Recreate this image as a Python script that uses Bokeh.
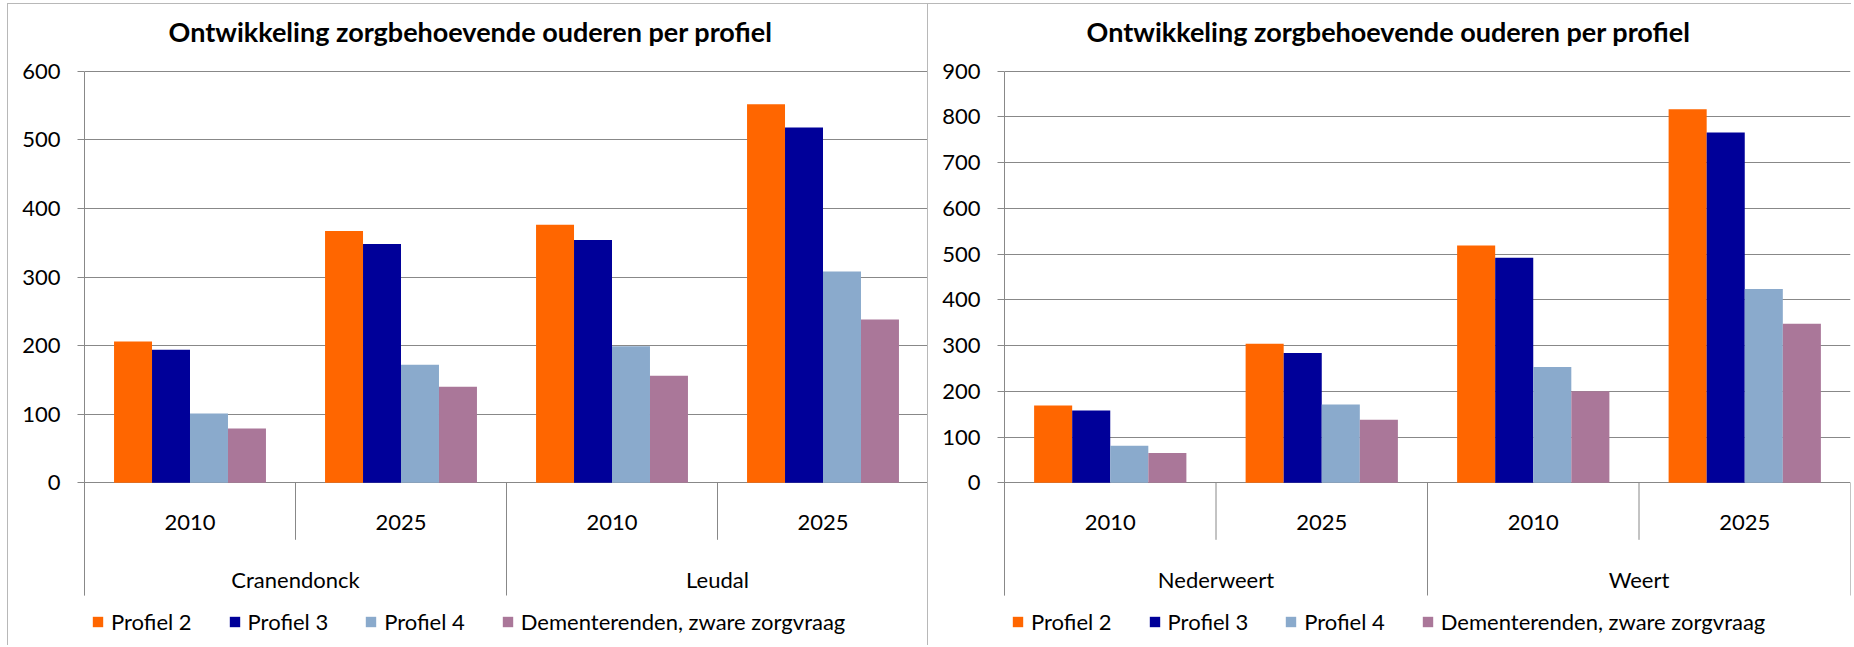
from bokeh.plotting import figure
from bokeh.models import (FactorRange, Range1d, FixedTicker, Legend, LegendItem,
                          ColumnDataSource, Label, Spacer)
from bokeh.transform import dodge
from bokeh.layouts import row
from bokeh.core.properties import value
from bokeh.embed import file_html
from bokeh.resources import INLINE

# ---------------- data ----------------
TITLE = "Ontwikkeling zorgbehoevende ouderen per profiel"
series_names = ["Profiel 2", "Profiel 3", "Profiel 4", "Dementerenden, zware zorgvraag"]
colors = ["#FF6600", "#000099", "#8AAACC", "#AA7799"]
years = ["2010", "2025"]

left_places = ["Cranendonck", "Leudal"]
left_profiel2 = [206, 367, 376, 552]
left_profiel3 = [194, 348, 354, 518]
left_profiel4 = [101, 172, 199, 308]
left_dement = [79, 140, 156, 238]
left_ymax = 600

right_places = ["Nederweert", "Weert"]
right_profiel2 = [169, 304, 519, 817]
right_profiel3 = [158, 284, 492, 766]
right_profiel4 = [81, 171, 253, 424]
right_dement = [65, 138, 200, 348]
right_ymax = 900

# ---------------- layout constants (page pixels) ----------------
CANVAS_TOP = 4        # page y of figure canvas top
FIG_H = 642
TOP_PX = 70.7          # page y of top tick value
ZERO_PX = 482.3        # page y of value 0
TITLE_PX = 31.0
YEAR_PX = 521.5
GROUP_PX = 579.0
SEP_SHORT_PX = 539.3
SEP_LONG_PX = 595.0
GRID = "#888888"
BORDER = "1px solid #b8b8b8"
FONT = "Lato"


def make_chart(places, s1, s2, s3, s4, ymax, width, right_border, title_x, legend_x):
    per_px = ymax / (ZERO_PX - TOP_PX)

    def y_at(page_y):
        return (ZERO_PX - page_y) * per_px

    factors = [(pl, yr) for pl in places for yr in years]
    x_range = FactorRange(*factors, factor_padding=0, group_padding=0,
                          subgroup_padding=0, range_padding=0)
    y_range = Range1d(y_at(CANVAS_TOP + FIG_H), y_at(CANVAS_TOP))

    p = figure(width=width, height=FIG_H, x_range=x_range, y_range=y_range,
               x_axis_location=None, output_backend="svg", toolbar_location=None,
               min_border_left=76, min_border_right=right_border,
               min_border_top=0, min_border_bottom=0)
    p.title.visible = False
    p.outline_line_color = None
    p.background_fill_color = "white"
    p.border_fill_color = "white"

    ticks = list(range(0, ymax + 1, 100))
    ax = p.yaxis[0]
    ax.ticker = FixedTicker(ticks=ticks)
    ax.bounds = (y_at(SEP_LONG_PX), ymax)
    ax.axis_line_color = GRID
    ax.major_tick_line_color = GRID
    ax.major_tick_out = 7
    ax.major_tick_in = 0
    ax.minor_tick_line_color = None
    ax.major_label_text_font = FONT
    ax.major_label_text_font_size = "22px"
    ax.major_label_text_color = "black"
    ax.major_label_standoff = 17

    p.xgrid.visible = False
    p.ygrid.ticker = FixedTicker(ticks=ticks)
    p.ygrid.grid_line_color = GRID
    p.ygrid.grid_line_width = 1

    # bars
    src = ColumnDataSource(dict(x=factors, s1=s1, s2=s2, s3=s3, s4=s4))
    offs = [-0.27, -0.09, 0.09, 0.27]
    renderers = []
    for key, off, col in zip(["s1", "s2", "s3", "s4"], offs, colors):
        r = p.vbar(x=dodge("x", off, range=x_range), top=key, bottom=0, width=0.18,
                   source=src, fill_color=col, line_color=None)
        renderers.append(r)

    # category separators
    n = len(factors)
    sep_x = list(range(0, n + 1))
    sep_y1 = [y_at(SEP_LONG_PX) if i % 2 == 0 else y_at(SEP_SHORT_PX) for i in sep_x]
    p.segment(x0=sep_x, x1=sep_x, y0=[0] * len(sep_x), y1=sep_y1,
              line_color=GRID, line_width=1)

    # category labels
    p.text(x=factors, y=[y_at(YEAR_PX)] * n, text=[f[1] for f in factors],
           text_font=value(FONT), text_font_size="22px", text_align="center",
           text_baseline="middle", text_color="black")
    p.text(x=places, y=[y_at(GROUP_PX)] * len(places), text=places,
           text_font=value(FONT), text_font_size="22px", text_align="center",
           text_baseline="middle", text_color="black")

    # title
    p.add_layout(Label(x=title_x, x_units="screen", y=y_at(TITLE_PX), text=TITLE,
                       text_font=FONT, text_font_style="bold", text_font_size="27px",
                       text_align="center", text_baseline="middle", text_color="black"))

    legend = Legend(items=[LegendItem(label=nm, renderers=[r])
                           for nm, r in zip(series_names, renderers)],
                    orientation="horizontal", location=(legend_x, 11),
                    padding=0, margin=0, spacing=36, label_standoff=7,
                    glyph_width=13, glyph_height=13,
                    border_line_color=None, background_fill_alpha=0,
                    label_text_font=FONT, label_text_font_size="22px",
                    label_text_color="black")
    p.add_layout(legend)
    return p


p1 = make_chart(left_places, left_profiel2, left_profiel3, left_profiel4, left_dement,
                left_ymax, 921, 1, 386, 7)
p1.styles = {"border-left": BORDER, "border-top": BORDER, "border-right": BORDER,
             "margin-top": "3px"}
p2 = make_chart(right_places, right_profiel2, right_profiel3, right_profiel4, right_dement,
                right_ymax, 923, 1, 384, 7)
p2.styles = {"border-top": BORDER, "margin-top": "3px"}

layout = row(Spacer(width=7, height=10), p1, p2, spacing=0)
open("out.html", "w").write(file_html(layout, INLINE))
